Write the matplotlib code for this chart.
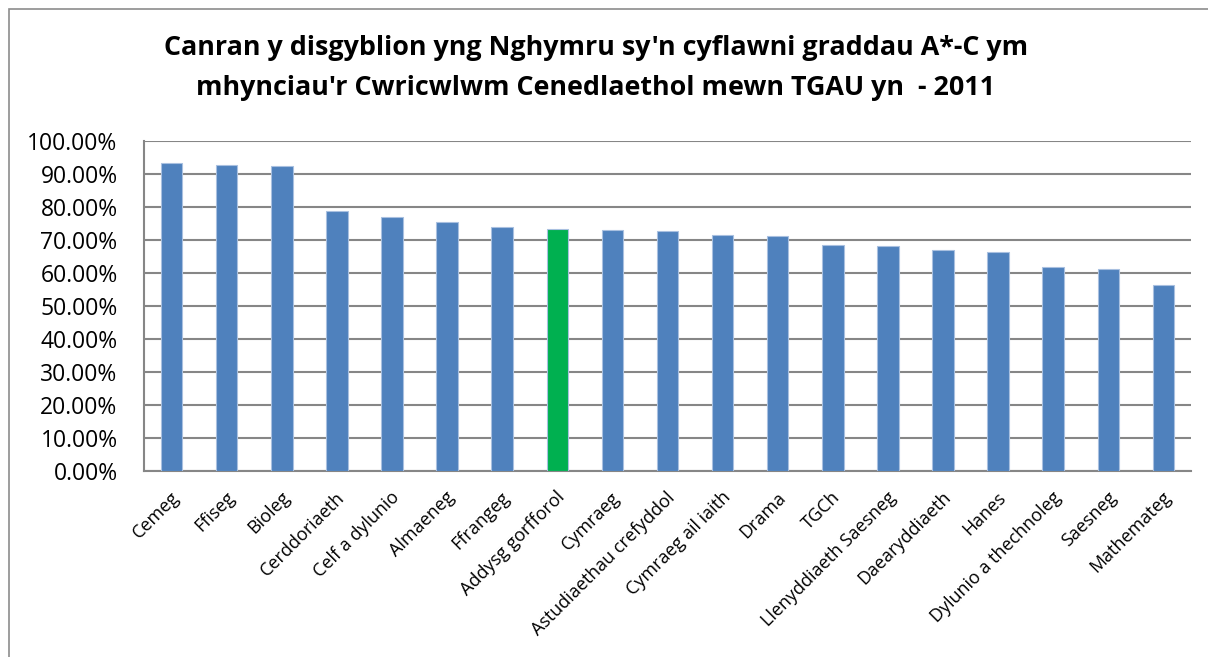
import matplotlib.pyplot as plt
import matplotlib.transforms as mtransforms
from matplotlib.patches import Rectangle
from matplotlib.ticker import FuncFormatter

# ==================== Data ====================
subjects = ['Cemeg', 'Ffiseg', 'Bioleg', 'Cerddoriaeth', 'Celf a dylunio', 'Almaeneg',
            'Ffrangeg', 'Addysg gorfforol', 'Cymraeg', 'Astudiaethau crefyddol',
            'Cymraeg ail iaith', 'Drama', 'TGCh', 'Llenyddiaeth Saesneg',
            'Daearyddiaeth', 'Hanes', 'Dylunio a thechnoleg', 'Saesneg', 'Mathemateg']
pass_rate = [93.3, 92.7, 92.4, 78.9, 77.1, 75.6, 73.8, 73.3, 73.1, 72.8,
             71.5, 71.3, 68.6, 68.1, 67.1, 66.5, 61.7, 61.2, 56.3]
highlight = 'Addysg gorfforol'

title = ("Canran y disgyblion yng Nghymru sy'n cyflawni graddau A*-C ym\n"
         "mhynciau'r Cwricwlwm Cenedlaethol mewn TGAU yn  - 2011")

BLUE = '#4F81BD'
GREEN = '#00B050'
GRID = '#868686'

plt.rcParams['font.family'] = ['Open Sans', 'DejaVu Sans']

fig = plt.figure(figsize=(12.08, 6.57), dpi=100)
ax = fig.add_axes([144 / 1208, 186 / 657, 1047 / 1208, 330 / 657])

# 外框
fig.patches.append(Rectangle((9 / 1208, -0.1), 1.2, 1 - 9 / 657 + 0.1,
                             transform=fig.transFigure, fill=False,
                             edgecolor='#8c8c8c', linewidth=1.2))

colors = [GREEN if s == highlight else BLUE for s in subjects]
x = range(len(subjects))
ax.bar(x, pass_rate, width=0.39, color=colors, edgecolor='#a9c0e0', linewidth=0.8, zorder=3)

ax.set_xlim(-0.5, len(subjects) - 0.5)
ax.set_ylim(0, 100)
ax.set_yticks(range(0, 101, 10))
ax.yaxis.set_major_formatter(FuncFormatter(lambda v, p: f'{v:.2f}%'))
ax.grid(axis='y', color=GRID, linewidth=1.5, zorder=0)

for side in ['top', 'right']:
    ax.spines[side].set_visible(False)
for side in ['left', 'bottom']:
    ax.spines[side].set_color(GRID)
    ax.spines[side].set_linewidth(1.5)

ax.tick_params(axis='y', length=0, pad=19, labelsize=16.5)
ax.tick_params(axis='x', length=0, pad=17)
ax.set_xticks(list(x))
ax.set_xticklabels(subjects, rotation=45, ha='right', va='center',
                   rotation_mode='anchor', fontsize=13)
# 標籤稍微往右移
shift = mtransforms.ScaledTranslation(5 / 100, 0, fig.dpi_scale_trans)
for lbl in ax.get_xticklabels():
    lbl.set_transform(lbl.get_transform() + shift)

fig.text(596 / 1208, 1 - 68 / 657, title, ha='center', va='center', fontsize=19.4,
         fontweight='bold', linespacing=1.7)

fig.savefig('out.png', dpi=100)
